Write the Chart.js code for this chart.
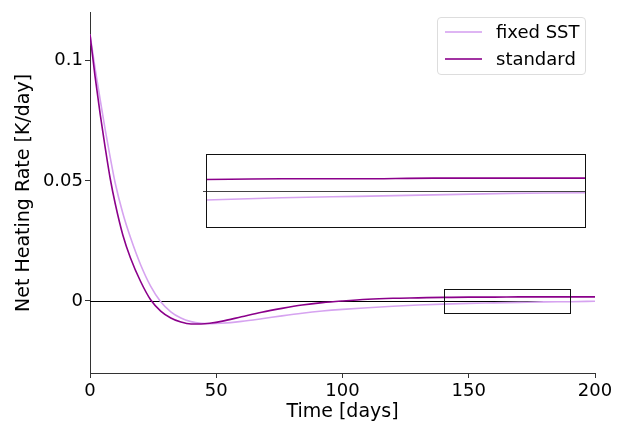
<!DOCTYPE html>
<html>
<head>
<meta charset="utf-8">
<title>Net heating rate</title>
<script src="https://cdn.jsdelivr.net/npm/chart.js@4/dist/chart.umd.min.js"></script>
<style>
  html, body { margin: 0; padding: 0; background: #fff; }
  #wrap { position: relative; width: 623px; height: 423px; }
  #mainChart { position: absolute; left: 0; top: 0; }
  #insetChart { position: absolute; left: 203px; top: 152px; }
  #legend {
    position: absolute; left: 437px; top: 17px; width: 147px; height: 56px;
    border: 1px solid #ddd; border-radius: 4px; background: rgba(255,255,255,0.8);
    font-family: 'DejaVu Sans', sans-serif; font-size: 18px; color: #000;
  }
  .item { position: absolute; left: 0; height: 22px; line-height: 22px; }
  .item span.swatch { position: absolute; left: 7px; top: 10px; width: 37px; height: 2px; opacity: 0.8; }
  .item span.label { position: absolute; left: 58px; top: 0; white-space: nowrap; }
</style>
</head>
<body>
<div id="wrap">
  <canvas id="mainChart" width="623" height="423"></canvas>
  <canvas id="insetChart" width="384" height="77"></canvas>
  <div id="legend"></div>
</div>
<script>
'use strict';

/* ── DATA ── */
const days = [0, 2, 4, 6, 8, 10, 13, 16, 20, 24, 28, 32, 36, 40, 44, 48, 52, 60, 68, 76, 84, 92,
              100, 110, 120, 130, 140, 150, 160, 170, 180, 190, 200];
const fixedSST = [0.111, 0.097, 0.084, 0.0715, 0.0598, 0.0490, 0.0365, 0.0265, 0.0152, 0.0062,
                  -0.0003, -0.0045, -0.0071, -0.0086, -0.0093, -0.0095, -0.0093, -0.0085, -0.0074,
                  -0.0062, -0.0051, -0.0042, -0.0035, -0.0028, -0.0022, -0.0017, -0.0013, -0.0010,
                  -0.0008, -0.0006, -0.0004, -0.0003, -0.0001];
const standard = [0.111, 0.0935, 0.0780, 0.0640, 0.0510, 0.0405, 0.0275, 0.0180, 0.0082, 0.0005,
                  -0.0042, -0.0071, -0.0088, -0.0096, -0.0096, -0.0092, -0.0085, -0.0066, -0.0047,
                  -0.0031, -0.0017, -0.0007, 0.0000, 0.0007, 0.0011, 0.0013, 0.0015, 0.0016,
                  0.0016, 0.0017, 0.0017, 0.0017, 0.0017];
const seriesNames = ['fixed SST', 'standard'];
const xTicks = [0, 50, 100, 150, 200];
const yTicks = [0, 0.05, 0.1];
const xRange = [0, 200];
const yRange = [-0.03, 0.12];
const zoomDays = [140, 190];
const zoomRate = [-0.005, 0.005];

/* ── STYLE ── */
const COLORS = ['#d6a3f0', '#8b008b'];
const FONT = "'DejaVu Sans', sans-serif";
const AXIS = '#333';

function pairs(ys) {
  return days.map((d, i) => ({ x: d, y: ys[i] }));
}

function makeDatasets() {
  return [fixedSST, standard].map((ys, i) => ({
    label: seriesNames[i],
    data: pairs(ys),
    borderColor: COLORS[i],
    borderWidth: 1.6,
    pointRadius: 0,
    cubicInterpolationMode: 'monotone',
    order: i === 1 ? 0 : 1,
  }));
}

/* zero line + zoom rectangle on the main axes */
const mainMarks = {
  id: 'mainMarks',
  beforeDatasetsDraw(chart) {
    const { ctx, chartArea, scales } = chart;
    const y0 = Math.round(scales.y.getPixelForValue(0)) + 0.5;
    ctx.save();
    ctx.strokeStyle = '#000';
    ctx.lineWidth = 1;
    ctx.beginPath();
    ctx.moveTo(chartArea.left, y0);
    ctx.lineTo(chartArea.right, y0);
    ctx.stroke();
    ctx.restore();
  },
  afterDatasetsDraw(chart) {
    const { ctx, scales } = chart;
    const x1 = Math.round(scales.x.getPixelForValue(zoomDays[0])) + 0.5;
    const x2 = Math.round(scales.x.getPixelForValue(zoomDays[1])) + 0.5;
    const y1 = Math.round(scales.y.getPixelForValue(zoomRate[1])) + 0.5;
    const y2 = Math.round(scales.y.getPixelForValue(zoomRate[0])) + 0.5;
    ctx.save();
    ctx.strokeStyle = '#111';
    ctx.lineWidth = 1;
    ctx.strokeRect(x1, y1, x2 - x1, y2 - y1);
    ctx.restore();
  },
};

/* frame + zero line for the inset */
const insetMarks = {
  id: 'insetMarks',
  beforeDatasetsDraw(chart) {
    const { ctx, chartArea, scales } = chart;
    const y0 = Math.round(scales.y.getPixelForValue(0)) + 0.5;
    ctx.save();
    ctx.strokeStyle = '#444';
    ctx.lineWidth = 1;
    ctx.beginPath();
    ctx.moveTo(chartArea.left - 3, y0);
    ctx.lineTo(chartArea.right, y0);
    ctx.stroke();
    ctx.restore();
  },
  afterDatasetsDraw(chart) {
    const { ctx, chartArea: a } = chart;
    ctx.save();
    ctx.strokeStyle = '#111';
    ctx.lineWidth = 1;
    ctx.strokeRect(Math.round(a.left) + 0.5, Math.round(a.top) + 0.5,
                   Math.round(a.right - a.left), Math.round(a.bottom - a.top));
    ctx.restore();
  },
};

/* ── MAIN CHART ── */
new Chart(document.getElementById('mainChart'), {
  type: 'line',
  data: { datasets: makeDatasets() },
  options: {
    responsive: false,
    animation: false,
    layout: { padding: { left: 0, right: 28, top: 8, bottom: 0 } },
    plugins: { legend: { display: false }, tooltip: { enabled: false } },
    scales: {
      x: {
        type: 'linear',
        min: xRange[0],
        max: xRange[1],
        afterBuildTicks: (s) => { s.ticks = xTicks.map(v => ({ value: v })); },
        afterFit: (s) => { s.height = 50; },
        ticks: { color: '#000', font: { family: FONT, size: 18 }, padding: 3, maxRotation: 0,
                 callback: (v) => String(v) },
        grid: { drawOnChartArea: false, color: AXIS, tickLength: 5 },
        border: { color: AXIS, width: 1 },
        title: { display: true, text: 'Time [days]', color: '#000',
                 font: { family: FONT, size: 19 }, padding: { top: 0, bottom: 0 } },
      },
      y: {
        type: 'linear',
        min: yRange[0],
        max: yRange[1],
        afterBuildTicks: (s) => { s.ticks = yTicks.map(v => ({ value: v })); },
        afterFit: (s) => { s.width = 90; },
        ticks: { color: '#000', font: { family: FONT, size: 18 }, padding: 2,
                 callback: (v) => String(v) },
        grid: { drawOnChartArea: false, color: AXIS, tickLength: 5 },
        border: { color: AXIS, width: 1 },
        title: { display: true, text: 'Net Heating Rate [K/day]', color: '#000',
                 font: { family: FONT, size: 19 }, padding: { top: 13, bottom: 0 } },
      },
    },
  },
  plugins: [mainMarks],
});

/* ── INSET (zoom of the late-time tail) ── */
new Chart(document.getElementById('insetChart'), {
  type: 'line',
  data: { datasets: makeDatasets() },
  options: {
    responsive: false,
    animation: false,
    layout: { padding: { left: 3, right: 2, top: 2, bottom: 2 } },
    plugins: { legend: { display: false }, tooltip: { enabled: false } },
    scales: {
      x: { type: 'linear', display: false, min: zoomDays[0], max: zoomDays[1] },
      y: { type: 'linear', display: false, min: zoomRate[0], max: zoomRate[1] },
    },
  },
  plugins: [insetMarks],
});

/* ── LEGEND ── */
const legendEl = document.getElementById('legend');
seriesNames.forEach((name, i) => {
  const item = document.createElement('div');
  item.className = 'item';
  item.style.top = (3 + i * 27) + 'px';
  item.style.width = '100%';
  item.innerHTML = `<span class="swatch" style="background:${COLORS[i]}"></span>` +
                   `<span class="label">${name}</span>`;
  legendEl.appendChild(item);
});
</script>
</body>
</html>
